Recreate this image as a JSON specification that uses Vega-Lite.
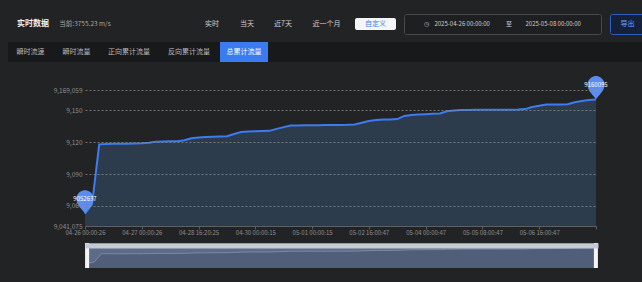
{
  "$schema": "https://vega.github.io/schema/vega-lite/v6.json",
  "background": "#222325",
  "padding": {"left": 8, "top": 13, "right": 10, "bottom": 20},
  "config": {"view": {"stroke": null}, "font": "Noto Sans CJK SC"},
  "datasets": {
    "flow": [
      {"t": "04-26 00:00:26", "v": 9052637},
      {"t": "04-26 03:00:26", "v": 9061632},
      {"t": "04-26 06:00:26", "v": 9117919},
      {"t": "04-26 09:00:26", "v": 9118203},
      {"t": "04-26 12:00:26", "v": 9118392},
      {"t": "04-26 15:00:26", "v": 9118486},
      {"t": "04-26 18:00:26", "v": 9118581},
      {"t": "04-26 21:00:26", "v": 9118770},
      {"t": "04-27 00:00:26", "v": 9118959},
      {"t": "04-27 05:00:26", "v": 9119338},
      {"t": "04-27 10:00:26", "v": 9120473},
      {"t": "04-27 15:00:26", "v": 9120662},
      {"t": "04-27 20:00:26", "v": 9120851},
      {"t": "04-28 01:00:26", "v": 9120946},
      {"t": "04-28 06:00:26", "v": 9121703},
      {"t": "04-28 11:00:26", "v": 9123600},
      {"t": "04-28 16:20:25", "v": 9124300},
      {"t": "04-28 20:00:25", "v": 9124800},
      {"t": "04-29 00:00:25", "v": 9125100},
      {"t": "04-29 04:00:25", "v": 9125300},
      {"t": "04-29 08:00:25", "v": 9125600},
      {"t": "04-29 12:00:25", "v": 9127600},
      {"t": "04-29 16:00:25", "v": 9129500},
      {"t": "04-29 20:00:25", "v": 9130100},
      {"t": "04-30 00:00:15", "v": 9130300},
      {"t": "04-30 03:00:15", "v": 9130500},
      {"t": "04-30 06:00:15", "v": 9130600},
      {"t": "04-30 09:00:15", "v": 9132500},
      {"t": "04-30 12:00:15", "v": 9134100},
      {"t": "04-30 15:00:15", "v": 9135600},
      {"t": "04-30 18:00:15", "v": 9135700},
      {"t": "04-30 21:00:15", "v": 9135800},
      {"t": "05-01 00:00:15", "v": 9135900},
      {"t": "05-01 05:00:15", "v": 9136000},
      {"t": "05-01 10:00:15", "v": 9136100},
      {"t": "05-01 15:00:15", "v": 9136150},
      {"t": "05-01 20:00:15", "v": 9136200},
      {"t": "05-02 01:00:15", "v": 9136300},
      {"t": "05-02 06:00:15", "v": 9136700},
      {"t": "05-02 11:00:15", "v": 9138300},
      {"t": "05-02 16:00:47", "v": 9139800},
      {"t": "05-02 20:00:47", "v": 9140900},
      {"t": "05-03 00:00:47", "v": 9141200},
      {"t": "05-03 04:00:47", "v": 9141400},
      {"t": "05-03 08:00:47", "v": 9141700},
      {"t": "05-03 12:00:47", "v": 9144700},
      {"t": "05-03 16:00:47", "v": 9145500},
      {"t": "05-03 20:00:47", "v": 9145900},
      {"t": "05-04 00:00:47", "v": 9146300},
      {"t": "05-04 04:00:47", "v": 9146600},
      {"t": "05-04 08:00:47", "v": 9147000},
      {"t": "05-04 12:00:47", "v": 9149000},
      {"t": "05-04 16:00:47", "v": 9149700},
      {"t": "05-04 20:00:47", "v": 9150300},
      {"t": "05-05 00:00:47", "v": 9150350},
      {"t": "05-05 04:00:47", "v": 9150400},
      {"t": "05-05 08:00:47", "v": 9150430},
      {"t": "05-05 12:00:47", "v": 9150460},
      {"t": "05-05 16:00:47", "v": 9150500},
      {"t": "05-05 20:00:47", "v": 9150530},
      {"t": "05-06 00:00:47", "v": 9150570},
      {"t": "05-06 04:00:47", "v": 9150600},
      {"t": "05-06 08:00:47", "v": 9151100},
      {"t": "05-06 12:00:47", "v": 9153100},
      {"t": "05-06 16:00:47", "v": 9154200},
      {"t": "05-06 20:00:47", "v": 9155300},
      {"t": "05-07 00:00:47", "v": 9155400},
      {"t": "05-07 04:00:47", "v": 9155500},
      {"t": "05-07 08:00:47", "v": 9155700},
      {"t": "05-07 12:00:47", "v": 9157600},
      {"t": "05-07 16:00:47", "v": 9158700},
      {"t": "05-07 20:00:47", "v": 9159700},
      {"t": "05-08 00:00:47", "v": 9160095}
    ]
  },
  "spacing": 0,
  "bounds": "full",
  "vconcat": [
    {
      "spacing": 0,
      "bounds": "full",
      "hconcat": [
        {"width": 50, "height": 20, "data": {"values": [{}]}, "mark": {"type": "text", "text": "实时数据", "color": "#f2f2f2", "fontSize": 8, "fontWeight": "bold"}},
        {"width": 54, "height": 20, "data": {"values": [{}]}, "mark": {"type": "text", "text": "当前:3755.23 m/s", "color": "#a9a9a9", "fontSize": 6.5}},
        {"width": 86, "height": 20, "data": {"values": [{}]}, "mark": {"type": "rect", "opacity": 0}},
        {"width": 28, "height": 20, "data": {"values": [{}]}, "mark": {"type": "text", "text": "实时", "color": "#cdcdcd", "fontSize": 7}},
        {"width": 42, "height": 20, "data": {"values": [{}]}, "mark": {"type": "text", "text": "当天", "color": "#cdcdcd", "fontSize": 7}},
        {"width": 30, "height": 20, "data": {"values": [{}]}, "mark": {"type": "text", "text": "近7天", "color": "#cdcdcd", "fontSize": 7}},
        {"width": 57, "height": 20, "data": {"values": [{}]}, "mark": {"type": "text", "text": "近一个月", "color": "#cdcdcd", "fontSize": 7}},
        {
          "spacing": 0,
          "bounds": "full",
          "vconcat": [
            {"width": 41, "height": 4, "data": {"values": [{}]}, "mark": {"type": "rect", "opacity": 0}},
            {"width": 41, "height": 12, "view": {"fill": "#f4f6fa", "cornerRadius": 2}, "data": {"values": [{}]}, "mark": {"type": "text", "text": "自定义", "color": "#3d7ae8", "fontSize": 7}},
            {"width": 41, "height": 4, "data": {"values": [{}]}, "mark": {"type": "rect", "opacity": 0}}
          ]
        },
        {"width": 7, "height": 20, "data": {"values": [{}]}, "mark": {"type": "rect", "opacity": 0}},
        {"width": 197, "height": 20, "view": {"fill": "#1e1f21", "stroke": "#47494d", "strokeWidth": 1, "cornerRadius": 2}, "data": {"values": [{}]}, "mark": {"type": "text", "text": "◷\u00a0\u00a0\u00a0\u00a02025-04-26 00:00:00\u00a0\u00a0\u00a0\u00a0\u00a0\u00a0\u00a0\u00a0\u00a0\u00a0\u00a0\u00a0至\u00a0\u00a0\u00a0\u00a0\u00a0\u00a0\u00a0\u00a0\u00a0\u00a02025-05-08 00:00:00\u00a0\u00a0\u00a0\u00a0\u00a0\u00a0", "color": "#cfcfcf", "fontSize": 6}},
        {"width": 7, "height": 20, "data": {"values": [{}]}, "mark": {"type": "rect", "opacity": 0}},
        {"width": 35, "height": 20, "view": {"fill": "#15213a", "stroke": "#2f5fbf", "strokeWidth": 1, "cornerRadius": 2}, "data": {"values": [{}]}, "mark": {"type": "text", "text": "导出", "color": "#7aa3f2", "fontSize": 7}}
      ]
    },
    {"width": 1, "height": 7, "data": {"values": [{}]}, "mark": {"type": "rect", "opacity": 0}},
    {
      "spacing": 0,
      "bounds": "full",
      "hconcat": [
        {"width": 45, "height": 20, "view": {"fill": "#18191b"}, "data": {"values": [{}]}, "mark": {"type": "text", "text": "瞬时流速", "color": "#b8b8b8", "fontSize": 7}},
        {"width": 47, "height": 20, "view": {"fill": "#18191b"}, "data": {"values": [{}]}, "mark": {"type": "text", "text": "瞬时流量", "color": "#b8b8b8", "fontSize": 7}},
        {"width": 58, "height": 20, "view": {"fill": "#18191b"}, "data": {"values": [{}]}, "mark": {"type": "text", "text": "正向累计流量", "color": "#b8b8b8", "fontSize": 7}},
        {"width": 62, "height": 20, "view": {"fill": "#18191b"}, "data": {"values": [{}]}, "mark": {"type": "text", "text": "反向累计流量", "color": "#b8b8b8", "fontSize": 7}},
        {"width": 48, "height": 20, "view": {"fill": "#3a7bf0"}, "data": {"values": [{}]}, "mark": {"type": "text", "text": "总累计流量", "color": "#ffffff", "fontSize": 7}},
        {"width": 374, "height": 20, "view": {"fill": "#18191b"}, "data": {"values": [{}]}, "mark": {"type": "rect", "opacity": 0}}
      ]
    },
    {"width": 1, "height": 14, "data": {"values": [{}]}, "mark": {"type": "rect", "opacity": 0}},
    {
      "spacing": 0,
      "bounds": "flush",
      "hconcat": [
        {"width": 77, "height": 136, "data": {"values": [{}]}, "mark": {"type": "rect", "opacity": 0}},
        {
          "width": 511,
          "height": 136,
          "data": {"name": "flow"},
          "encoding": {
            "x": {
              "field": "t", "type": "ordinal", "sort": null,
              "scale": {"type": "point", "padding": 0},
              "axis": {
                "values": ["04-26 00:00:26", "04-27 00:00:26", "04-28 16:20:25", "04-30 00:00:15", "05-01 00:00:15", "05-02 16:00:47", "05-04 00:00:47", "05-05 08:00:47", "05-06 16:00:47", "05-08 00:00:47"],
                "labelExpr": "datum.value == '05-08 00:00:47' ? '' : datum.label",
                "labelAngle": 0, "title": null, "grid": false,
                "domainColor": "#5f5f5f", "tickColor": "#5f5f5f", "tickSize": 3,
                "labelPadding": 0, "labelFontSize": 6, "labelColor": "#8f8f8f",
                "labelOverlap": false, "zindex": 1
              }
            },
            "y": {
              "field": "v", "type": "quantitative",
              "scale": {"domain": [9041075, 9169059], "zero": false, "nice": false},
              "axis": {
                "values": [9041075, 9060000, 9090000, 9120000, 9150000, 9169059],
                "labelExpr": "(datum.value == 9041075 || datum.value == 9169059) ? format(datum.value, ',') : format(datum.value / 1000, ',')",
                "title": null, "domain": false, "ticks": false,
                "labelFontSize": 6.5, "labelColor": "#8f8f8f", "labelPadding": 3,
                "labelFlush": false, "labelOverlap": false,
                "grid": true, "gridColor": "#8c8c8c", "gridDash": [2, 2],
                "gridOpacity": {"condition": {"test": "datum.value == 9041075", "value": 0}, "value": 0.75},
                "zindex": 1
              }
            }
          },
          "layer": [
            {"mark": {"type": "area", "clip": true, "color": {"gradient": "linear", "x1": 0, "y1": 0, "x2": 0, "y2": 1, "stops": [{"offset": 0, "color": "#2d3c4d"}, {"offset": 1, "color": "#242b34"}]}}},
            {"mark": {"type": "line", "color": "#3d7cf0", "strokeWidth": 2}},
            {
              "transform": [
                {"joinaggregate": [{"op": "min", "field": "v", "as": "vmin"}, {"op": "max", "field": "v", "as": "vmax"}]},
                {"filter": "datum.v == datum.vmin || datum.v == datum.vmax"}
              ],
              "layer": [
                {"mark": {"type": "point", "shape": "M0,0C-0.25,-0.45,-0.95,-1.05,-0.95,-1.45A1,1,0,1,1,0.95,-1.45C0.95,-1.05,0.25,-0.45,0,0Z", "size": 289, "filled": true, "color": "#5b8def", "opacity": 1, "strokeWidth": 0}},
                {"mark": {"type": "text", "dy": -15, "color": "#ffffff", "fontSize": 6}, "encoding": {"text": {"field": "v", "type": "quantitative", "format": "d"}}}
              ]
            }
          ]
        }
      ]
    },
    {"width": 1, "height": 6, "data": {"values": [{}]}, "mark": {"type": "rect", "opacity": 0}},
    {
      "spacing": 0,
      "bounds": "flush",
      "hconcat": [
        {"width": 77, "height": 25, "data": {"values": [{}]}, "mark": {"type": "rect", "opacity": 0}},
        {
          "width": 513,
          "height": 25,
          "view": {"fill": "#5e6b86"},
          "data": {"name": "flow"},
          "encoding": {
            "x": {
              "field": "t", "type": "ordinal", "sort": null,
              "scale": {"type": "point", "padding": 0.3},
              "axis": {"orient": "top", "offset": -2.5, "domainWidth": 5, "domainColor": "#c3cad4", "labels": false, "ticks": false, "title": null, "grid": false, "zindex": 1}
            }
          },
          "layer": [
            {"mark": {"type": "area", "clip": true, "color": "#4b5875", "line": {"color": "#8592ab", "strokeWidth": 0.8}}, "encoding": {"y": {"field": "v", "type": "quantitative", "scale": {"domain": [9020400, 9192332], "zero": false, "nice": false}, "axis": null}}},
            {
              "transform": [
                {"joinaggregate": [{"op": "min", "field": "v", "as": "vmin"}, {"op": "max", "field": "v", "as": "vmax"}]},
                {"filter": "datum.v == datum.vmin || datum.v == datum.vmax"}
              ],
              "mark": {"type": "rule", "color": "#f4f4f4", "strokeWidth": 4}
            }
          ]
        }
      ]
    }
  ]
}
